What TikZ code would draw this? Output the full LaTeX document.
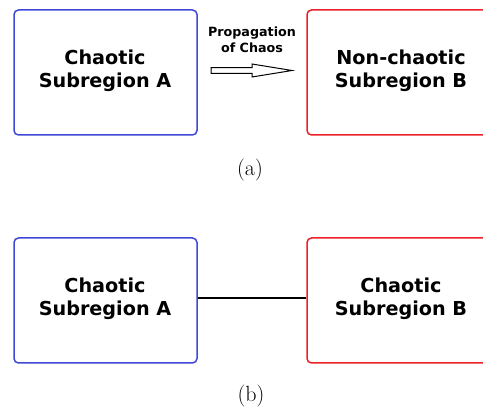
\documentclass[tikz,border=0pt]{standalone}
\usepackage{fontspec}
\newfontfamily\vf{DejaVu Sans}
\definecolor{boxblue}{RGB}{64,72,216}
\definecolor{boxred}{RGB}{236,32,40}
\begin{document}
\begin{tikzpicture}[x=1pt,y=-1pt,
  region/.style={draw,line width=1.5pt,rounded corners=4.5pt,minimum width=183pt,minimum height=125pt,inner sep=0pt},
  regiontext/.style={font=\vf\bfseries\fontsize{19.2}{23}\selectfont,align=center},
  subcap/.style={font=\fontsize{22}{26}\selectfont}]
\useasboundingbox (0,0) rectangle (483,409);
\begin{scope}
\clip (0,0) rectangle (483,409);
% (a)
\node[region,draw=boxblue] (A1) at (105.5,72.5) {};
\node[region,draw=boxred] (B1) at (398.5,72.5) {};
\node[regiontext] (tA1) at (105,70.5) {Chaotic\\Subregion A};
\node[regiontext] (tB1) at (401,70.5) {Non-chaotic\\Subregion B};
\coordinate (s1) at (211,67.7);
\coordinate (tip) at (292,70.5);
\draw[line width=1pt,fill=white,line join=miter]
  (s1) -- (252,67.7) -- (252,64) -- (tip) -- (252,77) -- (252,73.3) -- (211,73.3) -- cycle;
\node[font=\vf\bfseries\fontsize{12.7}{16}\selectfont,align=center] (lab) at (252,40) {Propagation\\of Chaos};
\node[subcap] (capa) at (250,170) {(a)};
% (b)
\node[region,draw=boxblue] (A2) at (105.5,300.5) {};
\node[region,draw=boxred] (B2) at (398.5,300.5) {};
\node[regiontext] (tA2) at (105,298.5) {Chaotic\\Subregion A};
\node[regiontext] (tB2) at (401,298.5) {Chaotic\\Subregion B};
\draw[line width=2.7pt] (A2.east |- 0,298) -- (B2.west |- 0,298);
\node[subcap] (capb) at (251,396) {(b)};
\end{scope}
\end{tikzpicture}
\end{document}
